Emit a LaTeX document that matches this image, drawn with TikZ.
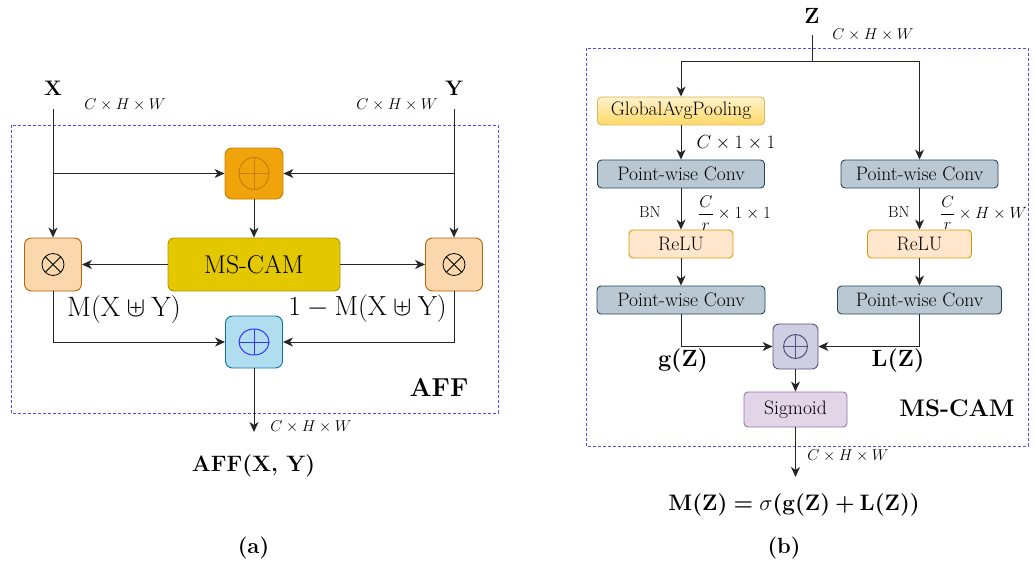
\RequirePackage{fix-cm}
\documentclass[tikz,border=0pt]{standalone}
\usepackage{amsmath,amssymb}
\usetikzlibrary{arrows.meta}

\newcommand\fsz[1]{\fontsize{#1}{#1}\selectfont}
\newcommand\bft[1]{\text{\bfseries #1}}

\definecolor{orangeF}{HTML}{F0A30A}
\definecolor{orangeD}{HTML}{C77F08}
\definecolor{yellowF}{HTML}{E3C800}
\definecolor{yellowD}{HTML}{B09500}
\definecolor{peachF}{HTML}{FAD7AC}
\definecolor{peachD}{HTML}{B46504}
\definecolor{blueF}{HTML}{B1DDF0}
\definecolor{blueD}{HTML}{10739E}
\definecolor{plusBlue}{HTML}{3333FF}
\definecolor{gapTop}{HTML}{FFF2CC}
\definecolor{gapBot}{HTML}{FFD966}
\definecolor{gapD}{HTML}{D6B656}
\definecolor{pwcF}{HTML}{BAC8D3}
\definecolor{pwcD}{HTML}{23445D}
\definecolor{reluF}{HTML}{FFE6CC}
\definecolor{reluD}{HTML}{D79B00}
\definecolor{purF}{HTML}{D0CEE2}
\definecolor{purD}{HTML}{56517E}
\definecolor{sigF}{HTML}{E1D5E7}
\definecolor{sigD}{HTML}{9673A6}
\definecolor{frameBlue}{HTML}{4D4DFF}

\tikzset{
  conn/.style={line width=1pt, draw=black!85},
  arr/.style={conn, -{Stealth[length=10pt,width=9pt,inset=3pt]}},
  blk/.style={draw, line width=0.9pt, rounded corners=4pt, inner sep=0pt,
              font=\fsz{19.5}},
  opbox/.style={draw, line width=0.9pt, rounded corners=7pt, inner sep=0pt},
  frame/.style={draw=frameBlue, line width=0.9pt, dash pattern=on 3pt off 2pt},
  lbl/.style={inner sep=0pt},
  dimlbl/.style={lbl, font=\fsz{15.7}},
  glyph/.style={line width=1pt},
}

\begin{document}
\begin{tikzpicture}[x=1pt,y=-1pt]
\useasboundingbox (0,0) rectangle (1035,567);

% ---------------- (a) attentional feature fusion ----------------
\draw[frame] (11,125) rectangle (498,413);

\node[lbl, font=\fsz{21}\bfseries] (X) at (53,88) {X};
\node[lbl, font=\fsz{21}\bfseries] (Y) at (454,88) {Y};
\node[dimlbl] (dx) at (125,105) {$C\times H\times W$};
\node[dimlbl] (dy) at (397,105) {$C\times H\times W$};

% element-wise sum of the two inputs
\node[opbox, fill=orangeF, draw=orangeD, minimum width=58, minimum height=51] (sumA) at (254,173.5) {};
\draw[glyph, orangeD] (sumA.center) ellipse [x radius=15pt, y radius=16pt];
\draw[glyph, orangeD] (sumA.center) ++(-15pt,0) -- ++(30pt,0);
\draw[glyph, orangeD] (sumA.center) ++(0,-16pt) -- ++(0,32pt);

\node[opbox, fill=yellowF, draw=yellowD, minimum width=172, minimum height=53,
      rounded corners=6pt, font=\fsz{25.7}] (mscam) at (254,264.5) {MS-CAM};

% element-wise products
\node[opbox, fill=peachF, draw=peachD, minimum width=57, minimum height=53] (mulL) at (53,264.5) {};
\node[opbox, fill=peachF, draw=peachD, minimum width=57, minimum height=53] (mulR) at (454,264.5) {};
\foreach \m in {mulL,mulR}{
  \draw[line width=0.8pt] (\m.center) circle [radius=11pt];
  \draw[line width=0.8pt] (\m.center) ++(-7.8pt,-7.8pt) -- ++(15.6pt,15.6pt);
  \draw[line width=0.8pt] (\m.center) ++(-7.8pt,7.8pt) -- ++(15.6pt,-15.6pt);
}

% weighted sum
\node[opbox, fill=blueF, draw=blueD, minimum width=57, minimum height=52] (sumB) at (254,342) {};
\draw[glyph, plusBlue] (sumB.center) ellipse [x radius=15pt, y radius=13pt];
\draw[glyph, plusBlue] (sumB.center) ++(-15pt,0) -- ++(30pt,0);
\draw[glyph, plusBlue] (sumB.center) ++(0,-13pt) -- ++(0,26pt);

\node[lbl, font=\fsz{28}] (mA) at (124,309) {$\mathrm{M}(\mathrm{X}\uplus\mathrm{Y})$};
\node[lbl, font=\fsz{27.6}] (mB) at (367.5,309) {$1-\mathrm{M}(\mathrm{X}\uplus\mathrm{Y})$};
\node[lbl, font=\fsz{26}\bfseries] (aff) at (439,387) {AFF};
\node[dimlbl] (dout) at (311,427) {$C\times H\times W$};
\node[lbl, font=\fsz{22.3}\bfseries] (affout) at (253.5,466) {AFF(X, Y)};
\node[lbl, font=\fsz{22}\bfseries] (capA) at (253.5,548) {(a)};

\coordinate (xs) at (53,109);
\coordinate (ys) at (454,109);
\coordinate (xj) at (53,173.5);
\coordinate (yj) at (454,173.5);
\coordinate (outA) at (254,432);

\draw[arr] (xs) -- (mulL.north);
\draw[arr] (ys) -- (mulR.north);
\draw[arr] (xj) -- (sumA.west);
\draw[arr] (yj) -- (sumA.east);
\draw[arr] (sumA) -- (mscam);
\draw[arr] (mscam) -- (mulL);
\draw[arr] (mscam) -- (mulR);
\draw[arr] (mulL.south) |- (sumB.west);
\draw[arr] (mulR.south) |- (sumB.east);
\draw[arr] (sumB) -- (outA);

% ---------------- (b) multi-scale channel attention ----------------
\draw[frame] (586,48) rectangle (1028,446);

\node[lbl, font=\fsz{22}\bfseries] (Z) at (812,16) {Z};
\node[dimlbl] (dz) at (873,35) {$C\times H\times W$};

\node[blk, top color=gapTop, bottom color=gapBot, draw=gapD,
      minimum width=167, minimum height=28] (gap) at (681,111) {GlobalAvgPooling};
\node[blk, fill=pwcF, draw=pwcD, minimum width=167, minimum height=28] (pwcL1) at (681,174) {Point-wise Conv};
\node[blk, fill=pwcF, draw=pwcD, minimum width=157, minimum height=28] (pwcR1) at (919.5,174) {Point-wise Conv};
\node[blk, fill=reluF, draw=reluD, minimum width=104, minimum height=28] (reluL) at (681,244) {ReLU};
\node[blk, fill=reluF, draw=reluD, minimum width=104, minimum height=28] (reluR) at (919.5,244) {ReLU};
\node[blk, fill=pwcF, draw=pwcD, minimum width=168, minimum height=28] (pwcL2) at (681,300) {Point-wise Conv};
\node[blk, fill=pwcF, draw=pwcD, minimum width=164, minimum height=28] (pwcR2) at (919.5,300) {Point-wise Conv};

% fusion of the global and local contexts
\node[opbox, fill=purF, draw=purD, minimum width=45, minimum height=45, rounded corners=6pt] (sumC) at (795.5,346.5) {};
\draw[glyph, purD] (sumC.center) circle [radius=12pt];
\draw[glyph, purD] (sumC.center) ++(-12pt,0) -- ++(24pt,0);
\draw[glyph, purD] (sumC.center) ++(0,-12pt) -- ++(0,24pt);

\node[blk, fill=sigF, draw=sigD, minimum width=103, minimum height=35] (sig) at (795.5,409.5) {Sigmoid};

\node[lbl, font=\fsz{19}] (d11) at (736,143) {$C\times 1\times 1$};
\node[lbl, font=\fsz{16}] (bnL) at (650,212) {BN};
\node[lbl, font=\fsz{17}, anchor=west] (drL) at (698,213) {$\dfrac{C}{r}\times 1\times 1$};
\node[lbl, font=\fsz{16}] (bnR) at (899,212) {BN};
\node[lbl, font=\fsz{16.3}, anchor=west] (drR) at (940,213) {$\dfrac{C}{r}\times H\times W$};

\node[lbl, font=\fsz{23.5}\bfseries] (gZ) at (683,361) {g(Z)};
\node[lbl, font=\fsz{23.5}\bfseries] (lZ) at (898,361) {L(Z)};
\node[lbl, font=\fsz{24}\bfseries] (msl) at (957,408) {MS-CAM};
\node[dimlbl] (dzo) at (848,456) {$C\times H\times W$};
\node[lbl, font=\fsz{22.4}] (eq) at (794,505)
  {$\bft{M(Z)}\mathrel{\bft{=}}\sigma\bft{(g(Z)}\mathbin{\bft{+}}\bft{L(Z))}$};
\node[lbl, font=\fsz{22}\bfseries] (capB) at (784,548) {(b)};

\coordinate (zs) at (812.5,35);
\coordinate (zj) at (812.5,62);
\coordinate (outB) at (795.5,477);

\draw[conn] (zs) -- (zj);
\draw[arr] (zj) -| (gap.north);
\draw[arr] (zj) -| (pwcR1.north);
\draw[arr] (gap) -- (pwcL1);
\draw[arr] (pwcL1) -- (reluL);
\draw[arr] (pwcR1) -- (reluR);
\draw[arr] (reluL) -- (pwcL2);
\draw[arr] (reluR) -- (pwcR2);
\draw[arr] (pwcL2.south) |- (sumC.west);
\draw[arr] (pwcR2.south) |- (sumC.east);
\draw[arr] (sumC) -- (sig);
\draw[arr] (sig) -- (outB);
\end{tikzpicture}
\end{document}
